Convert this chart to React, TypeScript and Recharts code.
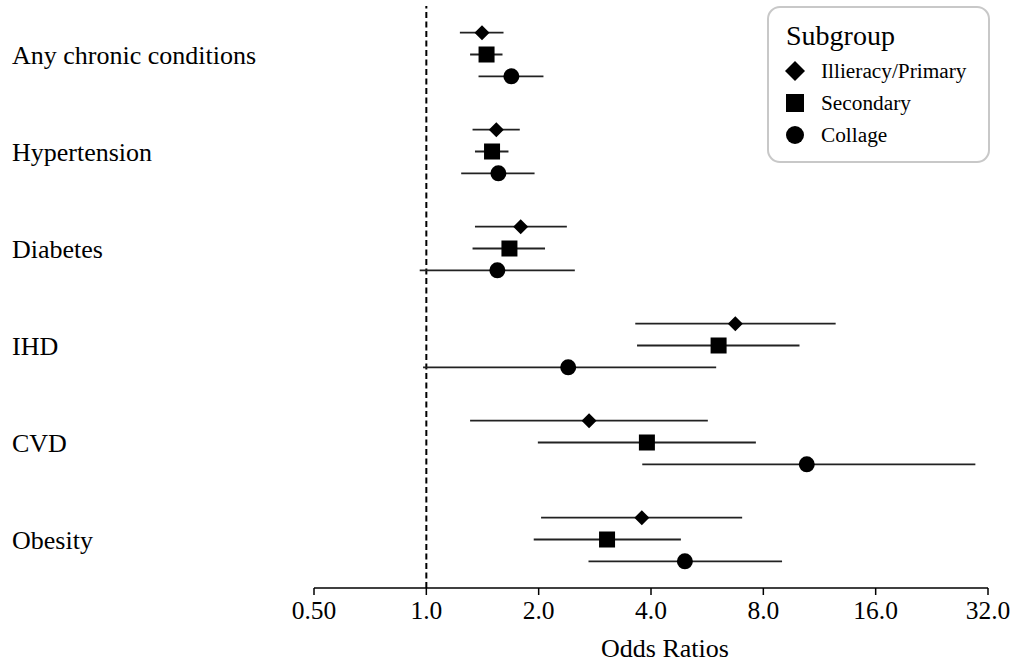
import React from "react";
import { ScatterChart, Scatter, XAxis, YAxis, ErrorBar, ReferenceLine, Legend } from "recharts";

const categories = ["Any chronic conditions", "Hypertension", "Diabetes", "IHD", "CVD", "Obesity"];
const groups = ["Illieracy/Primary", "Secondary", "Collage"];

// odds ratios and 95% CI per subgroup, same order as categories
const orPrimary = [1.41, 1.54, 1.79, 6.73, 2.73, 3.78];
const lowPrimary = [1.23, 1.33, 1.35, 3.63, 1.31, 2.03];
const highPrimary = [1.61, 1.78, 2.38, 12.5, 5.68, 7.02];

const orSecondary = [1.45, 1.5, 1.67, 6.07, 3.9, 3.05];
const lowSecondary = [1.31, 1.35, 1.33, 3.67, 1.99, 1.94];
const highSecondary = [1.6, 1.66, 2.08, 10.0, 7.64, 4.81];

const orCollage = [1.69, 1.56, 1.55, 2.4, 10.46, 4.93];
const lowCollage = [1.38, 1.24, 0.96, 0.98, 3.79, 2.72];
const highCollage = [2.06, 1.95, 2.5, 5.98, 29.6, 8.98];

const xTicks = [0.5, 1, 2, 4, 8, 16, 32];
const xTickLabels = ["0.50", "1.0", "2.0", "4.0", "8.0", "16.0", "32.0"];

const rowOffsets = [-0.225, 0, 0.225];
const FONT = "Liberation Serif, Times New Roman, serif";

function buildRows(or: number[], lo: number[], hi: number[], g: number) {
  return categories.map((name, i) => ({
    name,
    pos: i + rowOffsets[g],
    or: or[i],
    ci: [or[i] - lo[i], hi[i] - or[i]],
  }));
}

const primaryRows = buildRows(orPrimary, lowPrimary, highPrimary, 0);
const secondaryRows = buildRows(orSecondary, lowSecondary, highSecondary, 1);
const collageRows = buildRows(orCollage, lowCollage, highCollage, 2);

function Diamond({ cx, cy, r = 7.5 }: any) {
  return <path d={`M${cx},${cy - r}L${cx + r},${cy}L${cx},${cy + r}L${cx - r},${cy}Z`} fill="#000" />;
}

function Square({ cx, cy, r = 8 }: any) {
  return <rect x={cx - r} y={cy - r} width={r * 2} height={r * 2} fill="#000" />;
}

function Dot({ cx, cy, r = 8 }: any) {
  return <circle cx={cx} cy={cy} r={r} fill="#000" />;
}

function CategoryTick({ y, payload }: any) {
  return (
    <text x={12} y={y} dy="0.35em" textAnchor="start" fontSize={26} fontFamily={FONT} fill="#000">
      {categories[payload.value]}
    </text>
  );
}

function SubgroupLegend() {
  const rows = [65, 97, 129];
  return (
    <svg width={224} height={158}>
      <rect x={1} y={1} width={221} height={155} rx={12} fill="#fff" stroke="#c8c8c8" strokeWidth={2} />
      <text x={19} y={39} fontSize={28} fontFamily={FONT} fill="#000">Subgroup</text>
      <Diamond cx={28} cy={rows[0]} r={10} />
      <Square cx={28} cy={rows[1]} r={9} />
      <Dot cx={28} cy={rows[2]} r={9} />
      {groups.map((g, i) => (
        <text key={g} x={54} y={rows[i] + 7} fontSize={21.3} fontFamily={FONT} fill="#000">
          {g}
        </text>
      ))}
    </svg>
  );
}

export default function App() {
  return (
    <div style={{ position: "absolute", left: 0, top: 0 }}>
      <ScatterChart width={1016} height={667} margin={{ top: 6, right: 28, bottom: 0, left: 0 }}>
        <XAxis
          type="number"
          dataKey="or"
          scale="log"
          domain={[0.5, 32]}
          ticks={xTicks}
          allowDataOverflow
          tickFormatter={(v: number) => xTickLabels[xTicks.indexOf(v)] ?? String(v)}
          height={79}
          tickSize={7}
          tickMargin={6}
          axisLine={{ stroke: "#000", strokeWidth: 1.5 }}
          tickLine={{ stroke: "#000", strokeWidth: 1.5 }}
          tick={{ fill: "#000", fontSize: 25.5, fontFamily: FONT }}
          label={{
            value: "Odds Ratios",
            position: "insideBottom",
            offset: 10,
            dx: 14,
            fill: "#000",
            fontSize: 26,
            fontFamily: FONT,
          }}
        />
        <YAxis
          type="number"
          dataKey="pos"
          domain={[-0.5, 5.5]}
          reversed
          ticks={[0, 1, 2, 3, 4, 5]}
          axisLine={false}
          tickLine={false}
          width={314}
          tick={<CategoryTick />}
        />
        <ReferenceLine x={1} stroke="#000" strokeWidth={2} strokeDasharray="6 3.5" />
        <Scatter name={groups[0]} data={primaryRows} shape={<Diamond />} isAnimationActive={false}>
          <ErrorBar dataKey="ci" direction="x" width={0} stroke="#222" strokeWidth={1.8} isAnimationActive={false} />
        </Scatter>
        <Scatter name={groups[1]} data={secondaryRows} shape={<Square />} isAnimationActive={false}>
          <ErrorBar dataKey="ci" direction="x" width={0} stroke="#222" strokeWidth={1.8} isAnimationActive={false} />
        </Scatter>
        <Scatter name={groups[2]} data={collageRows} shape={<Dot />} isAnimationActive={false}>
          <ErrorBar dataKey="ci" direction="x" width={0} stroke="#222" strokeWidth={1.8} isAnimationActive={false} />
        </Scatter>
        <Legend
          layout="horizontal"
          align="center"
          verticalAlign="middle"
          wrapperStyle={{ left: 767, top: 6, width: 224, height: 158 }}
          content={<SubgroupLegend />}
        />
      </ScatterChart>
    </div>
  );
}
